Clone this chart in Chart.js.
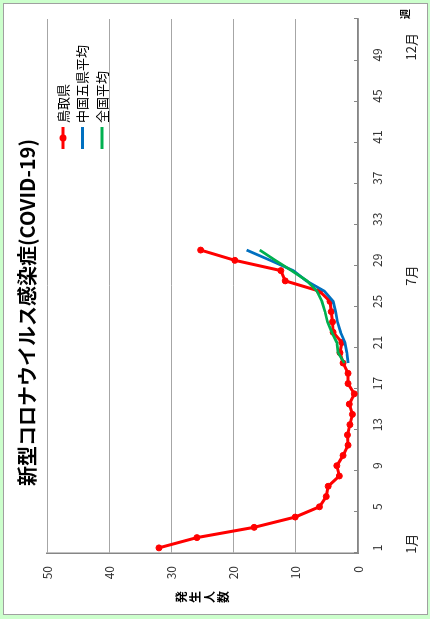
<!DOCTYPE html>
<html><head><meta charset="utf-8">
<script src="https://cdn.jsdelivr.net/npm/chart.js@4"></script>
<style>
html,body{margin:0;padding:0;background:#ccffcc;overflow:hidden;width:430px;height:619px}
#rot{position:absolute;left:0;top:0;width:619px;height:430px;transform-origin:0 0;transform:translate(0,619px) rotate(-90deg);}
#box{position:absolute;left:4px;top:3px;width:612px;height:425px;box-sizing:border-box;background:#fff;border:1px solid #a0a0a0}
canvas{position:absolute;left:0;top:0}
</style></head><body>
<div id="rot"><div id="box"></div><canvas id="c" width="619" height="430"></canvas></div>
<script>
// ---- data ----
const weeks = ['1','2','3','4','5','6','7','8','9','10','11','12','13','14','15','16','17','18','19','20','21','22','23','24','25','26','27','28','29','30','31','32','33','34','35','36','37','38','39','40','41','42','43','44','45','46','47','48','49','50','51','52'];
const seriesNames = ['鳥取県', '中国五県平均', '全国平均'];
const tottori = [32.0, 25.9, 16.7, 10.1, 6.2, 5.1, 4.8, 3.0, 3.4, 2.4, 1.6, 1.7, 1.3, 0.9, 1.4, 0.6, 1.6, 1.6, 2.4, 2.9, 2.6, 4.0, 4.1, 4.3, 4.5, 6.2, 11.7, 12.4, 19.8, 25.3];
const avgStartWeek = 19;
const chugoku = [1.6, 1.8, 2.1, 2.8, 3.3, 3.6, 4.0, 5.4, 8.3, 10.4, 14.1, 17.9];
const zenkoku = [2.2, 3.2, 3.4, 4.2, 4.9, 5.3, 5.8, 6.6, 8.2, 10.7, 13.3, 15.8];
const yTicks = [0, 10, 20, 30, 40, 50];
const monthLabels = ['1月', '7月', '12月'];
const monthWeeks = [1.4, 27.5, 49.8];
const weekUnit = '週';
const titleText = '新型コロナウイルス感染症(COVID-19)';
const yTitle = '発生人数';

const pad = n => Array(n).fill(null);
const colors = ['#FF0000', '#0070C0', '#00B050'];
const FONT = '"Noto Sans CJK JP", "Noto Sans", sans-serif';

const extras = {
  id: 'extras',
  afterLayout(chart) {
    // centre the title on the whole chart box rather than the padded area
    if (chart.titleBlock) { chart.titleBlock.left = 0; chart.titleBlock.right = 613; }
  },
  afterDraw(chart) {
    const ctx = chart.ctx, x = chart.scales.x, ca = chart.chartArea;
    ctx.save();
    ctx.fillStyle = '#222';
    ctx.textAlign = 'center'; ctx.textBaseline = 'middle';
    ctx.font = '13px ' + FONT;
    monthLabels.forEach((m, i) => ctx.fillText(m, x.getPixelForValue(monthWeeks[i] - 1), x.top + 53));
    ctx.fillStyle = '#000';
    ctx.font = 'bold 10px ' + FONT;
    ctx.fillText(weekUnit, x.right + 5, x.top + 47);
    ctx.font = 'bold 12px ' + FONT;
    const chars = Array.from(yTitle);
    const mid = (ca.top + ca.bottom) / 2;
    chars.forEach((ch, i) => ctx.fillText(ch, 22, mid + (i - (chars.length - 1) / 2) * 14));
    // legend
    const lx = ca.right - 130;
    chart.data.datasets.forEach((ds, i) => {
      const ly = ca.top + 16 + i * 19.5;
      ctx.strokeStyle = ds.borderColor; ctx.lineWidth = 3;
      ctx.beginPath(); ctx.moveTo(lx, ly); ctx.lineTo(lx + 22, ly); ctx.stroke();
      if (ds.pointRadius > 0) {
        ctx.fillStyle = ds.borderColor;
        ctx.beginPath(); ctx.arc(lx + 11, ly, 3.5, 0, Math.PI * 2); ctx.fill();
      }
      ctx.fillStyle = '#000'; ctx.textAlign = 'left';
      ctx.font = '13px ' + FONT;
      ctx.fillText(ds.label, lx + 26, ly);
    });
    ctx.restore();
  }
};

new Chart(document.getElementById('c'), {
  type: 'line',
  data: {
    labels: weeks,
    datasets: [
      { label: seriesNames[0], data: tottori, borderColor: colors[0], backgroundColor: colors[0], borderWidth: 3, pointRadius: 3, pointBorderWidth: 1, pointHoverRadius: 3, order: 3 },
      { label: seriesNames[1], data: pad(avgStartWeek - 1).concat(chugoku), borderColor: colors[1], backgroundColor: colors[1], borderWidth: 2.75, pointRadius: 0, order: 2 },
      { label: seriesNames[2], data: pad(avgStartWeek - 1).concat(zenkoku), borderColor: colors[2], backgroundColor: colors[2], borderWidth: 2.75, pointRadius: 0, order: 1 }
    ]
  },
  options: {
    responsive: false, animation: false, devicePixelRatio: 1,
    layout: { padding: { left: 0, right: 19, top: 0, bottom: 0 } },
    plugins: {
      legend: { display: false },
      tooltip: { enabled: false },
      title: { display: true, text: titleText, color: '#000', font: { size: 20, weight: 'bold', family: FONT }, padding: { top: 15.5, bottom: 7.5 } }
    },
    scales: {
      x: {
        type: 'category', offset: true,
        grid: { offset: true, drawOnChartArea: false, drawTicks: true, tickLength: -4, lineWidth: 1,
          tickColor: ctx => (ctx.index === undefined || ctx.index % 4 === 0) ? '#868686' : 'rgba(0,0,0,0)' },
        border: { display: true, color: '#868686', width: 1.5 },
        ticks: { autoSkip: false, maxRotation: 0, minRotation: 0, padding: 16, color: '#333', font: { size: 12, family: FONT },
          callback: (v, i) => i % 4 === 0 ? weeks[i] : '' },
        afterFit: s => { s.height = 72; }
      },
      y: {
        min: 0, max: 50,
        afterBuildTicks: s => { s.ticks = yTicks.map(v => ({ value: v })); },
        grid: { color: '#a6a6a6', lineWidth: 1, drawTicks: false },
        border: { display: true, color: '#868686', width: 1.5 },
        ticks: { padding: 13, color: '#333', font: { size: 12, family: FONT } },
        afterFit: s => { s.width = 66; }
      }
    }
  },
  plugins: [extras]
});
</script>
</body></html>
